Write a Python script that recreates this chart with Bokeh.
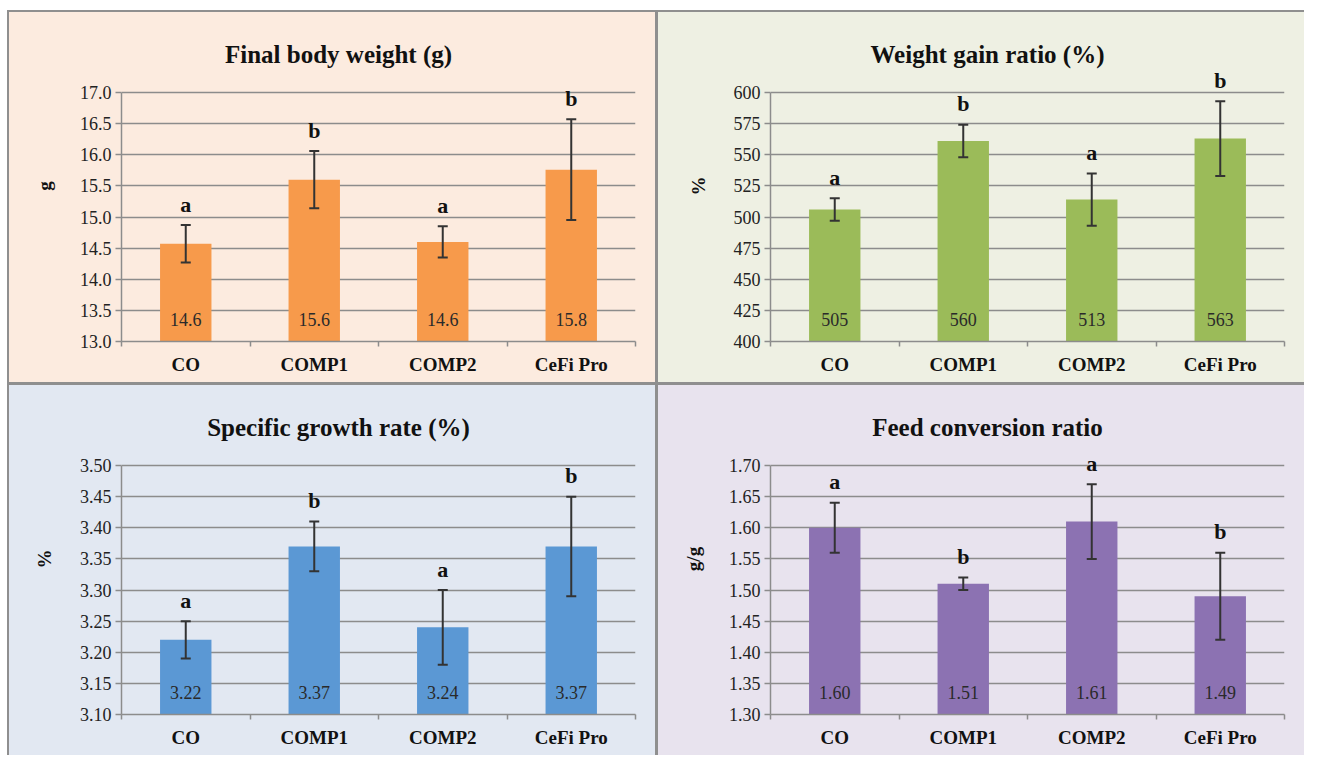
from bokeh.plotting import figure
from bokeh.layouts import gridplot
from bokeh.models import (ColumnDataSource, Range1d, FixedTicker, PrintfTickFormatter,
                          LabelSet, Label, Whisker, TeeHead)
from bokeh.core.properties import value
from bokeh.embed import file_html
from bokeh.resources import INLINE

# ---------------- data ----------------
categories = ["CO", "COMP1", "COMP2", "CeFi Pro"]

fbw_values = [14.57, 15.60, 14.60, 15.76]
fbw_errors = [0.30, 0.46, 0.25, 0.81]
fbw_labels = ["14.6", "15.6", "14.6", "15.8"]
fbw_letters = ["a", "b", "a", "b"]

wgr_values = [506, 561, 514, 563]
wgr_errors = [9, 13, 21, 30]
wgr_labels = ["505", "560", "513", "563"]
wgr_letters = ["a", "b", "a", "b"]

sgr_values = [3.22, 3.37, 3.24, 3.37]
sgr_errors = [0.03, 0.04, 0.06, 0.08]
sgr_labels = ["3.22", "3.37", "3.24", "3.37"]
sgr_letters = ["a", "b", "a", "b"]

fcr_values = [1.60, 1.51, 1.61, 1.49]
fcr_errors = [0.04, 0.01, 0.06, 0.07]
fcr_labels = ["1.60", "1.51", "1.61", "1.49"]
fcr_letters = ["a", "b", "a", "b"]

SERIF = "Liberation Serif"
W, H = 646, 370
B_LEFT, B_RIGHT, B_TOP, B_BOTTOM = 112, 20, 18, 41
HEADROOM = 62          # px between frame top and the top gridline
FRAME_H = H - B_TOP - B_BOTTOM
FRAME_W = W - B_LEFT - B_RIGHT
AXIS_H = FRAME_H - HEADROOM


def make_panel(title, ylabel, values, errors, labels, letters,
               y0, y1, ystep, fmt, bar_color, bg_color):
    n = len(categories)
    xs = list(range(1, n + 1))
    src = ColumnDataSource(dict(
        x=xs, top=values,
        upper=[v + e for v, e in zip(values, errors)],
        lower=[v - e for v, e in zip(values, errors)],
        base=[y0] * n, label=labels, letter=letters))

    y_end = y1 + (y1 - y0) * HEADROOM / AXIS_H
    p = figure(width=W, height=H, output_backend="svg", toolbar_location=None,
               x_range=Range1d(0.5, n + 0.5), y_range=Range1d(y0, y_end),
               min_border_left=B_LEFT, min_border_right=B_RIGHT,
               min_border_top=B_TOP, min_border_bottom=B_BOTTOM)
    p.background_fill_color = bg_color
    p.border_fill_color = bg_color
    p.outline_line_color = None
    p.styles = {"background-color": bg_color}

    p.add_layout(Label(x=FRAME_W / 2 - 40, y=FRAME_H - (42 - B_TOP),
                       x_units="screen", y_units="screen", text=title,
                       text_align="center", text_baseline="middle",
                       text_font=SERIF, text_font_size="25px",
                       text_font_style="bold", text_color="#111111"))

    p.vbar(x="x", top="top", bottom=y0, width=0.4, source=src,
           fill_color=bar_color, line_color=None)

    wh = Whisker(base="x", upper="upper", lower="lower", source=src, level="overlay",
                 line_color="#333333", line_width=2,
                 upper_head=TeeHead(size=10, line_color="#333333", line_width=2),
                 lower_head=TeeHead(size=10, line_color="#333333", line_width=2))
    p.add_layout(wh)

    p.add_layout(LabelSet(x="x", y="base", text="label", source=src,
                          y_offset=22, text_align="center", text_baseline="middle",
                          text_font=value(SERIF), text_font_size="18px",
                          text_color="#2a2a2a"))
    p.add_layout(LabelSet(x="x", y="upper", text="letter", source=src,
                          y_offset=21, text_align="center", text_baseline="middle",
                          text_font=value(SERIF), text_font_size="22px",
                          text_font_style="bold", text_color="#111111"))

    # y axis
    nt = int(round((y1 - y0) / ystep))
    yticks = [round(y0 + i * ystep, 4) for i in range(nt + 1)]
    p.yaxis.ticker = FixedTicker(ticks=yticks)
    p.yaxis.bounds = (y0, y1)
    p.yaxis.formatter = PrintfTickFormatter(format=fmt)
    p.yaxis.axis_label = ylabel
    p.yaxis.axis_label_text_font = SERIF
    p.yaxis.axis_label_text_font_size = "19px"
    p.yaxis.axis_label_text_font_style = "bold"
    p.yaxis.axis_label_text_color = "#111111"
    p.yaxis.axis_label_standoff = 22
    p.yaxis.major_label_text_font = SERIF
    p.yaxis.major_label_text_font_size = "18px"
    p.yaxis.major_label_text_color = "#222222"
    p.yaxis.axis_line_color = "#8c8c8c"
    p.yaxis.axis_line_width = 1.5
    p.yaxis.major_tick_line_color = "#8c8c8c"
    p.yaxis.major_tick_line_width = 1.5
    p.yaxis.major_tick_in = 0
    p.yaxis.major_tick_out = 6
    p.yaxis.minor_tick_line_color = None
    p.yaxis.major_label_standoff = 4

    # x axis
    p.xaxis.ticker = FixedTicker(ticks=xs, minor_ticks=[i + 0.5 for i in range(n + 1)])
    p.xaxis.major_label_overrides = {x: c for x, c in zip(xs, categories)}
    p.xaxis.major_label_text_font = SERIF
    p.xaxis.major_label_text_font_size = "19px"
    p.xaxis.major_label_text_font_style = "bold"
    p.xaxis.major_label_text_color = "#111111"
    p.xaxis.axis_line_color = "#8c8c8c"
    p.xaxis.axis_line_width = 1.5
    p.xaxis.major_tick_line_color = None
    p.xaxis.minor_tick_line_color = "#8c8c8c"
    p.xaxis.minor_tick_line_width = 1.5
    p.xaxis.minor_tick_in = 0
    p.xaxis.minor_tick_out = 5
    p.xaxis.major_label_standoff = 6

    p.xgrid.grid_line_color = None
    p.ygrid.grid_line_color = "#8c8c8c"
    p.ygrid.grid_line_width = 1.5
    return p


p1 = make_panel("Final body weight (g)", "g", fbw_values, fbw_errors, fbw_labels,
                fbw_letters, 13.0, 17.0, 0.5, "%.1f", "#F79A4B", "#FCEBDF")
p2 = make_panel("Weight gain ratio (%)", "%", wgr_values, wgr_errors, wgr_labels,
                wgr_letters, 400, 600, 25, "%d", "#9BBB59", "#EEF0E3")
p3 = make_panel("Specific growth rate (%)", "%", sgr_values, sgr_errors, sgr_labels,
                sgr_letters, 3.10, 3.50, 0.05, "%.2f", "#5B98D4", "#E2E8F2")
p4 = make_panel("Feed conversion ratio", "g/g", fcr_values, fcr_errors, fcr_labels,
                fcr_letters, 1.30, 1.70, 0.05, "%.2f", "#8C72B2", "#E8E3EE")

grid = gridplot([[p1, p2], [p3, p4]], toolbar_location=None)
grid.spacing = 3
grid.margin = (10, 0, 0, 7)
grid.styles = {"background-color": "#8f8f8f", "padding": "2px 0 0 2px"}

open("out.html", "w").write(file_html(grid, INLINE))
